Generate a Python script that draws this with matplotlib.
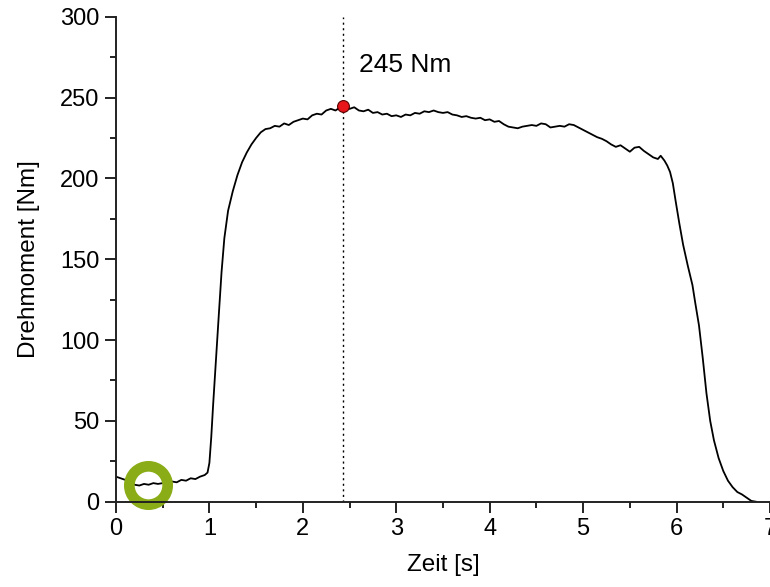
import matplotlib
matplotlib.use("Agg")
import matplotlib.pyplot as plt
from matplotlib.ticker import MultipleLocator

# torque curve
zeit = [0.00, 0.05, 0.10, 0.15, 0.20, 0.25, 0.30, 0.35, 0.40, 0.45,
        0.50, 0.55, 0.60, 0.65, 0.70, 0.75, 0.80, 0.85, 0.90, 0.95,
        0.98, 1.00, 1.02, 1.04, 1.07, 1.10, 1.13, 1.16, 1.20, 1.25,
        1.30, 1.35, 1.40, 1.45, 1.50, 1.55, 1.60, 1.65, 1.70, 1.75,
        1.80, 1.85, 1.90, 1.95, 2.00, 2.05, 2.10, 2.15, 2.20, 2.25,
        2.30, 2.35, 2.40, 2.43, 2.50, 2.55, 2.60, 2.65, 2.70, 2.75,
        2.80, 2.85, 2.90, 2.95, 3.00, 3.05, 3.10, 3.15, 3.20, 3.25,
        3.30, 3.35, 3.40, 3.45, 3.50, 3.55, 3.60, 3.65, 3.70, 3.75,
        3.80, 3.85, 3.90, 3.95, 4.00, 4.05, 4.10, 4.15, 4.20, 4.25,
        4.30, 4.35, 4.40, 4.45, 4.50, 4.55, 4.60, 4.65, 4.70, 4.75,
        4.80, 4.85, 4.90, 4.95, 5.00, 5.05, 5.10, 5.15, 5.20, 5.25,
        5.30, 5.35, 5.40, 5.45, 5.50, 5.55, 5.60, 5.65, 5.70, 5.75,
        5.80, 5.83, 5.87, 5.90, 5.93, 5.96, 5.99, 6.03, 6.07, 6.12,
        6.17, 6.20, 6.24, 6.28, 6.32, 6.36, 6.40, 6.45, 6.50, 6.55,
        6.60, 6.65, 6.70, 6.75, 6.80, 6.85]
moment = [15.5, 14.5, 13.5, 12.0, 10.5, 10.0, 11.0, 10.5, 11.5, 11.0,
          11.5, 12.0, 12.5, 12.0, 13.5, 13.0, 14.5, 14.0, 15.5, 16.5,
          18.0, 24.0, 40.0, 60.0, 88.0, 115.0, 142.0, 163.0, 180.0, 192.0,
          202.0, 210.0, 216.0, 221.0, 225.0, 228.5, 230.5, 231.0, 232.5, 232.0,
          234.0, 233.0, 235.0, 236.0, 237.0, 236.5, 239.0, 240.0, 239.5, 242.0,
          243.0, 242.0, 244.0, 245.0, 243.0, 244.0, 242.0, 241.5, 242.5, 240.5,
          241.0, 239.5, 240.0, 238.5, 239.0, 238.0, 239.5, 239.0, 240.5, 240.0,
          241.5, 241.0, 242.0, 241.0, 240.5, 241.0, 239.5, 239.0, 238.0, 238.5,
          237.5, 237.0, 237.5, 236.0, 236.5, 235.0, 235.5, 233.5, 232.0, 231.5,
          231.0, 232.0, 232.5, 233.0, 232.5, 234.0, 233.5, 231.5, 232.0, 232.5,
          232.0, 233.5, 233.0, 231.5, 230.0, 228.5, 227.0, 225.5, 224.5, 223.0,
          221.0, 219.5, 220.5, 218.5, 216.5, 219.0, 219.5, 217.0, 215.0, 213.0,
          212.0, 214.0, 211.0, 208.0, 204.0, 197.0, 186.0, 172.0, 159.0, 146.0,
          134.0, 123.0, 109.0, 89.0, 67.0, 50.0, 38.0, 27.0, 19.0, 13.0,
          9.0, 6.0, 4.5, 2.5, 0.5, 0.0]

peak_t = 2.43
peak_val = 245
mark_t = 0.34
mark_val = 10.6

plt.rcParams['font.family'] = ['Liberation Sans', 'DejaVu Sans']

fig = plt.figure(figsize=(7.7, 5.87), dpi=100)
ax = fig.add_axes([0.1506, 0.1453, 0.8494, 0.8262])

ax.plot(zeit, moment, color='black', lw=1.3)
ax.axvline(peak_t, color='black', lw=1.0, ls=(0, (1.5, 2.5)))
ax.plot(peak_t, peak_val, 'o', ms=8.5, mfc='#e8151b', mec='#5a0000', mew=0.8)
ax.text(peak_t + 0.17, 270, f'{peak_val} Nm', va='center', ha='left', fontsize=19)

ax.plot(mark_t, mark_val, 'o', ms=27.6, mfc='none', mec='#8aad17', mew=7.7,
        clip_on=False)

ax.set_xlim(0, 7)
ax.set_ylim(0, 300)
ax.xaxis.set_major_locator(MultipleLocator(1))
ax.xaxis.set_minor_locator(MultipleLocator(0.5))
ax.yaxis.set_major_locator(MultipleLocator(50))
ax.yaxis.set_minor_locator(MultipleLocator(25))

for side in ['top', 'right']:
    ax.spines[side].set_visible(False)
for side in ['left', 'bottom']:
    ax.spines[side].set_linewidth(1.4)
    ax.spines[side].set_color('#222222')

ax.tick_params(which='major', direction='out', length=8, width=1.4,
               color='#222222', pad=4, labelsize=17)
ax.tick_params(which='minor', direction='out', length=4.5, width=1.4,
               color='#222222')

ax.set_xlabel('Zeit [s]', fontsize=17.5, labelpad=10)
ax.set_ylabel('Drehmoment [Nm]', fontsize=17.5, labelpad=14)

fig.savefig('out.png', dpi=100)
